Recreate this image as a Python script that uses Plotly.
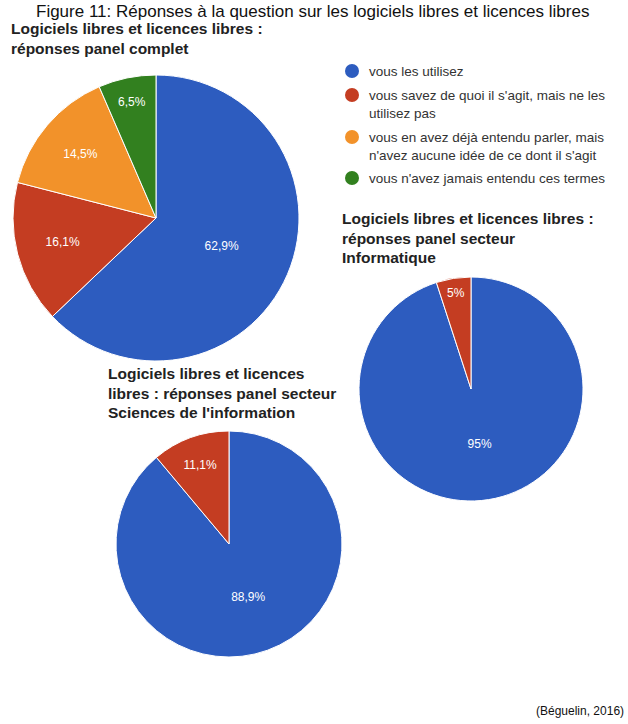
import plotly.graph_objects as go

W, H = 628, 724

categories = [
    "vous les utilisez",
    "vous savez de quoi il s'agit, mais ne les utilisez pas",
    "vous en avez déjà entendu parler, mais n'avez aucune idée de ce dont il s'agit",
    "vous n'avez jamais entendu ces termes",
]
legend_lines = [
    ["vous les utilisez"],
    ["vous savez de quoi il s'agit, mais ne les", "utilisez pas"],
    ["vous en avez déjà entendu parler, mais", "n'avez aucune idée de ce dont il s'agit"],
    ["vous n'avez jamais entendu ces termes"],
]
colors = ["#2D5CBF", "#C43D22", "#F2922A", "#32801F"]

complet_values = [62.9, 16.1, 14.5, 6.5]
info_values = [95, 5]
sciences_values = [88.9, 11.1]

title_complet = ["Logiciels libres et licences libres :", "réponses panel complet"]
title_info = ["Logiciels libres et licences libres :", "réponses panel secteur", "Informatique"]
title_sciences = ["Logiciels libres et licences", "libres : réponses panel secteur", "Sciences de l'information"]
caption = "Figure 11: Réponses à la question sur les logiciels libres et licences libres"
source = "(Béguelin, 2016)"


def px(x):
    return x / W


def py(y):
    return 1 - y / H


def dom(cx, cy, r):
    return dict(x=[px(cx - r), px(cx + r)], y=[py(cy + r), py(cy - r)])


def pie(values, n, cx, cy, r, fmt):
    return go.Pie(
        labels=categories[:n], values=values, sort=False, direction="clockwise",
        rotation=0, domain=dom(cx, cy, r),
        marker=dict(colors=colors[:n], line=dict(color="white", width=1)),
        texttemplate=fmt, textposition="inside", insidetextorientation="horizontal",
        textfont=dict(color="white", size=12, family="Liberation Sans"),
        showlegend=False, hoverinfo="label+percent",
    )


fig = go.Figure()
fig.add_trace(pie(complet_values, 4, 156, 218, 143, "%{percent:.1%}"))
fig.add_trace(pie(info_values, 2, 471, 389, 112, "%{percent:.0%}"))
fig.add_trace(pie(sciences_values, 2, 229, 544, 113, "%{percent:.1%}"))

ann = []
shapes = []


def txt(x, y, s, size, bold=False, anchor="left", color="#222", yanchor="middle"):
    ann.append(dict(
        x=px(x), y=py(y), xref="paper", yref="paper", xanchor=anchor, yanchor=yanchor,
        text=f"<b>{s}</b>" if bold else s, showarrow=False,
        font=dict(family="Liberation Sans", size=size, color=color),
    ))


txt(312, 0, caption, 17, anchor="center", color="#111", yanchor="top")
for i, line in enumerate(title_complet):
    txt(9, 29 + i * 19.5, line, 15.5, bold=True)
for i, line in enumerate(title_info):
    txt(340, 219 + i * 19.5, line, 15.5, bold=True)
for i, line in enumerate(title_sciences):
    txt(106, 374 + i * 19.5, line, 15.5, bold=True)

legend_y = [71, 95, 137, 178]
for lines, y0, c in zip(legend_lines, legend_y, colors):
    shapes.append(dict(type="circle", xref="paper", yref="paper",
                       x0=px(352 - 7), x1=px(352 + 7),
                       y0=py(y0 + 7), y1=py(y0 - 7),
                       fillcolor=c, line=dict(width=0)))
    for j, line in enumerate(lines):
        txt(367, y0 + j * 18.5, line, 13.5, color="#333")

txt(626, 711, source, 12, anchor="right", color="#111")

fig.update_layout(
    width=W, height=H, margin=dict(l=0, r=0, t=0, b=0),
    paper_bgcolor="white", plot_bgcolor="white",
    separators=", ", annotations=ann, shapes=shapes,
)
fig.write_html(
    "out.html",
    config={"displayModeBar": False},
    post_script="document.body.style.margin='0';document.body.style.overflow='hidden';",
)
